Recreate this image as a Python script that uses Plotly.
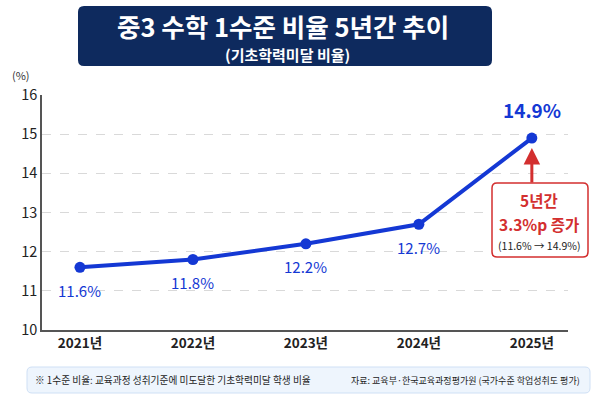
import plotly.graph_objects as go

years = ["2021년", "2022년", "2023년", "2024년", "2025년"]
rates = [11.6, 11.8, 12.2, 12.7, 14.9]
labels = ["11.6%", "11.8%", "12.2%", "12.7%", "14.9%"]
y_ticks = [10, 11, 12, 13, 14, 15, 16]

FONT = "Noto Sans CJK KR"
BLUE = "#1438d4"
NAVY = "#0e2a5e"
RED = "#d32f2f"

ML, MT, PW, PH = 42, 95, 526, 235


def px(x):
    return (x - ML) / PW


def py(y):
    return (MT + PH - y) / PH


def rounded(x0, y0, x1, y1, r):
    # pixel coords -> paper path with rounded corners
    rx, ry = r / PW, r / PH
    a0, a1 = px(x0), px(x1)
    b0, b1 = py(y1), py(y0)  # b0 bottom, b1 top
    return (f"M{a0 + rx},{b0} L{a1 - rx},{b0} Q{a1},{b0} {a1},{b0 + ry} "
            f"L{a1},{b1 - ry} Q{a1},{b1} {a1 - rx},{b1} L{a0 + rx},{b1} "
            f"Q{a0},{b1} {a0},{b1 - ry} L{a0},{b0 + ry} Q{a0},{b0} {a0 + rx},{b0} Z")


xs = list(range(len(years)))

fig = go.Figure()
fig.add_trace(go.Scatter(
    x=xs, y=rates, mode="lines+markers",
    line=dict(color=BLUE, width=4),
    marker=dict(color=BLUE, size=11),
    hoverinfo="skip", showlegend=False,
))

# data labels
for i, (x, y, t) in enumerate(zip(xs, rates, labels)):
    last = i == len(xs) - 1
    fig.add_annotation(
        x=x, y=y, text=f"<b>{t}</b>" if last else t, showarrow=False,
        xanchor="center", yanchor="middle",
        yshift=29 if last else -23,
        font=dict(family=FONT, size=19 if last else 15, color=BLUE),
    )

# arrow to last point
fig.add_annotation(
    x=xs[-1], y=rates[-1], ax=xs[-1], ay=10 + (330 - 184) / (PH / 6), axref="x", ayref="y",
    text="", showarrow=True, arrowhead=2, arrowsize=1.1, arrowwidth=3,
    arrowcolor=RED, standoff=10,
)
# callout box
fig.add_shape(type="path", xref="paper", yref="paper",
              path=rounded(492, 183, 588, 257, 5),
              line=dict(color=RED, width=1.5), fillcolor="white")
for yy, txt, sz, col in [(199.5, "<b>5년간</b>", 15.5, RED),
                         (223.5, "<b>3.3%p 증가</b>", 15.5, RED),
                         (245, "(11.6% → 14.9%)", 10.5, "#222")]:
    fig.add_annotation(xref="paper", yref="paper", x=px(539), y=py(yy),
                       xanchor="center", yanchor="middle",
                       text=txt, showarrow=False,
                       font=dict(family=FONT, size=sz, color=col))

# title box
fig.add_shape(type="path", xref="paper", yref="paper",
              path=rounded(78, 6, 492, 66, 6),
              line=dict(color=NAVY, width=0), fillcolor=NAVY, layer="below")
fig.add_annotation(xref="paper", yref="paper", x=px(283), y=py(26),
                   xanchor="center", yanchor="middle",
                   text="<b>중3 수학 1수준 비율 5년간 추이</b>", showarrow=False,
                   font=dict(family=FONT, size=25.5, color="white"))
fig.add_annotation(xref="paper", yref="paper", x=px(287), y=py(54.5),
                   xanchor="center", yanchor="middle",
                   text="<b>(기초학력미달 비율)</b>", showarrow=False,
                   font=dict(family=FONT, size=15, color="white"))

# unit label
fig.add_annotation(xref="paper", yref="paper", x=px(21), y=py(75),
                   xanchor="center", yanchor="middle",
                   text="(%)", showarrow=False,
                   font=dict(family=FONT, size=11, color="#333"))

# footnote box
fig.add_shape(type="path", xref="paper", yref="paper",
              path=rounded(27, 367, 590, 393, 5),
              line=dict(color="#cfe0f5", width=1), fillcolor="#eef5fd")
fig.add_annotation(xref="paper", yref="paper", x=px(33), y=py(380),
                   xanchor="left", yanchor="middle",
                   text="※ 1수준 비율: 교육과정 성취기준에 미도달한 기초학력미달 학생 비율",
                   showarrow=False, font=dict(family=FONT, size=9.7, color="#222"))
fig.add_annotation(xref="paper", yref="paper", x=px(582), y=py(380),
                   xanchor="right", yanchor="middle",
                   text="자료: 교육부·한국교육과정평가원 (국가수준 학업성취도 평가)",
                   showarrow=False, font=dict(family=FONT, size=9, color="#222"))

fig.update_layout(
    width=600, height=400,
    margin=dict(l=ML, r=600 - ML - PW, t=MT, b=400 - MT - PH),
    paper_bgcolor="white", plot_bgcolor="white",
    font=dict(family=FONT),
    xaxis=dict(
        range=[-0.336, 4.32], tickmode="array", tickvals=xs,
        ticktext=[f"<b>{y}</b>" for y in years],
        showgrid=False, zeroline=False, showline=True, linecolor="#555", linewidth=1.5,
        ticks="", tickfont=dict(family=FONT, size=13.5, color="#222"),
    ),
    yaxis=dict(
        range=[10, 16], tickvals=y_ticks, showgrid=True, gridcolor="#d9d9d9",
        griddash="dash", gridwidth=1, zeroline=False, showline=True,
        linecolor="#555", linewidth=1.5, ticks="",
        tickfont=dict(family=FONT, size=14.5, color="#222"),
    ),
)

fig.write_html("out.html")
